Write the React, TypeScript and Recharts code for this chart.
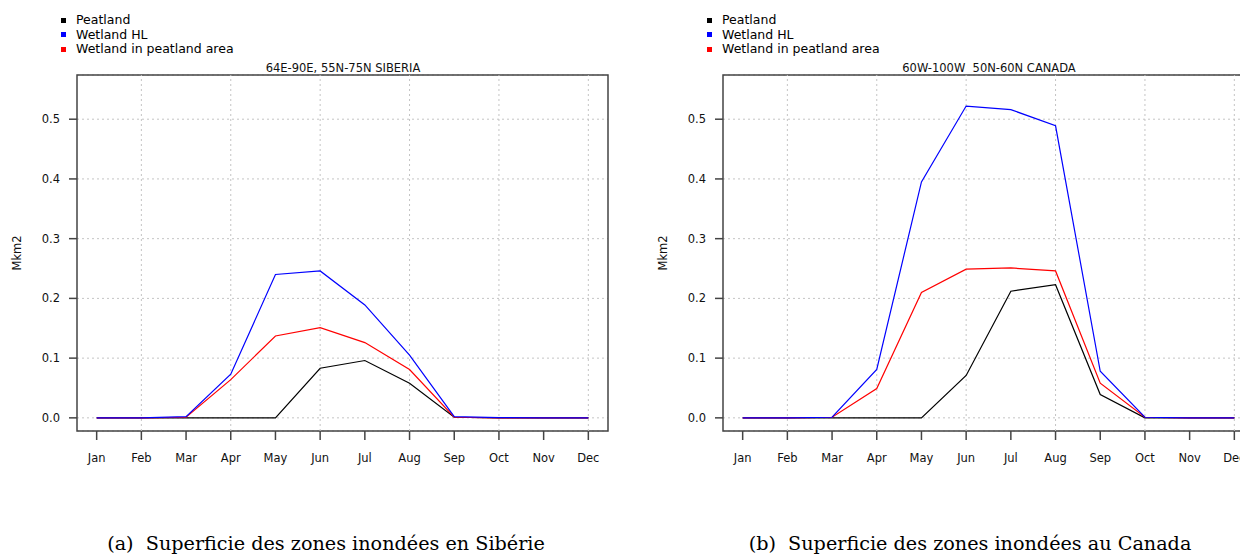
import React from 'react';
import {
  LineChart,
  Line,
  XAxis,
  YAxis,
  CartesianGrid,
  ReferenceLine,
  ReferenceArea,
  Legend,
} from 'recharts';

const months = ['Jan', 'Feb', 'Mar', 'Apr', 'May', 'Jun', 'Jul', 'Aug', 'Sep', 'Oct', 'Nov', 'Dec'];
const monthIndex = [1, 2, 3, 4, 5, 6, 7, 8, 9, 10, 11, 12];
const gridMonths = [2, 4, 6, 8, 10, 12];
const yTicks = [0, 0.1, 0.2, 0.3, 0.4, 0.5];

// Siberia (64E-90E, 55N-75N)
const sibPeatland = [0, 0, 0, 0, 0, 0.083, 0.096, 0.058, 0.001, 0, 0, 0];
const sibWetlandHL = [0, 0, 0.002, 0.073, 0.24, 0.246, 0.189, 0.105, 0.002, 0.0005, 0, 0];
const sibWetlandPeat = [0, 0, 0.001, 0.064, 0.137, 0.151, 0.126, 0.081, 0.001, 0, 0, 0];

// Canada (60W-100W, 50N-60N)
const canPeatland = [0, 0, 0, 0, 0, 0.071, 0.212, 0.223, 0.039, 0, 0, 0];
const canWetlandHL = [0, 0, 0.001, 0.081, 0.395, 0.522, 0.516, 0.489, 0.078, 0.001, 0, 0];
const canWetlandPeat = [0, 0, 0.001, 0.049, 0.21, 0.249, 0.251, 0.246, 0.058, 0.001, 0, 0];

// R-style 4% padding around the data range
const X_DOMAIN: [number, number] = [0.56, 12.44];
const Y_DOMAIN: [number, number] = [-0.022, 0.574];

const SANS = '"DejaVu Sans", sans-serif';
const AXIS_COLOR = '#444';

const renderLegend = (props: any) => (
  <ul style={{ listStyle: 'none', margin: 0, padding: 0, fontFamily: SANS, fontSize: 12.5, lineHeight: '14.5px', color: '#000' }}>
    {(props.payload || []).map((e: any) => (
      <li key={e.value} style={{ display: 'flex', alignItems: 'center', whiteSpace: 'nowrap' }}>
        <span style={{ display: 'inline-block', width: 5, height: 5, background: e.color, marginRight: 10 }} />
        {e.value}
      </li>
    ))}
  </ul>
);

type PanelProps = {
  left: number;
  title: string;
  caption: string;
  captionCenter: number;
  peat: number[];
  hl: number[];
  wp: number[];
};

const Panel: React.FC<PanelProps> = ({ left, title, caption, captionCenter, peat, hl, wp }) => {
  const data = monthIndex.map((m, i) => ({ m, peat: peat[i], hl: hl[i], wp: wp[i] }));
  const tickStyle = { fontFamily: SANS, fontSize: 11.5, fill: '#111' };

  return (
    <>
      <div style={{ position: 'absolute', left, top: 0, width: 620, height: 470 }}>
        <div
          style={{
            position: 'absolute', left: 78, width: 530, top: 61, textAlign: 'center',
            fontFamily: SANS, fontSize: 11.5, color: '#111', whiteSpace: 'pre',
          }}
        >
          {title}
        </div>
        <LineChart width={620} height={470} data={data} margin={{ top: 75, right: 12, left: 17, bottom: 9 }}>
          <CartesianGrid vertical={false} stroke="#c4c4c4" strokeDasharray="2 3" />
          {gridMonths.map((m) => (
            <ReferenceLine key={m} x={m} stroke="#c4c4c4" strokeDasharray="2 3" />
          ))}
          <XAxis
            dataKey="m"
            type="number"
            domain={X_DOMAIN}
            allowDataOverflow
            ticks={monthIndex}
            interval={0}
            tickFormatter={(v: number) => months[v - 1]}
            axisLine={false}
            tickLine={{ stroke: AXIS_COLOR, strokeWidth: 1.5 }}
            tickSize={9}
            tickMargin={14}
            height={30}
            tick={tickStyle}
          />
          <YAxis
            type="number"
            domain={Y_DOMAIN}
            allowDataOverflow
            ticks={yTicks}
            interval={0}
            tickFormatter={(v: number) => v.toFixed(1)}
            axisLine={false}
            tickLine={{ stroke: AXIS_COLOR, strokeWidth: 1.5 }}
            tickSize={8}
            tickMargin={9}
            width={60}
            tick={tickStyle}
            label={{
              value: 'Mkm2', angle: -90, position: 'insideLeft', offset: 0,
              style: { textAnchor: 'middle', fontFamily: SANS, fontSize: 11.5, fill: '#111' },
            }}
          />
          <ReferenceArea
            x1={X_DOMAIN[0]} x2={X_DOMAIN[1]} y1={Y_DOMAIN[0]} y2={Y_DOMAIN[1]}
            fill="none" fillOpacity={0} stroke={AXIS_COLOR} strokeWidth={1.5}
          />
          <Legend
            layout="vertical"
            align="center"
            verticalAlign="middle"
            content={renderLegend}
            wrapperStyle={{ left: 61, top: 13, width: 260 }}
          />
          <Line name="Peatland" dataKey="peat" type="linear" stroke="#000000" strokeWidth={1.2} dot={false} isAnimationActive={false} legendType="square" />
          <Line name="Wetland in peatland area" dataKey="wp" type="linear" stroke="#ff0000" strokeWidth={1.2} dot={false} isAnimationActive={false} legendType="square" />
          <Line name="Wetland HL" dataKey="hl" type="linear" stroke="#0000ff" strokeWidth={1.2} dot={false} isAnimationActive={false} legendType="square" />
        </LineChart>
      </div>
      <div
        style={{
          position: 'absolute', left: captionCenter - 300, width: 600, top: 532, textAlign: 'center',
          fontFamily: '"DejaVu Serif", serif', fontSize: 19.2, color: '#000', whiteSpace: 'pre',
        }}
      >
        {caption}
      </div>
    </>
  );
};

export default function App() {
  return (
    <div style={{ position: 'absolute', left: 0, top: 0, width: 1240, height: 558, overflow: 'hidden', background: '#fff' }}>
      <Panel
        left={0}
        title="64E-90E, 55N-75N SIBERIA"
        caption="(a)  Superficie des zones inondées en Sibérie"
        captionCenter={326}
        peat={sibPeatland}
        hl={sibWetlandHL}
        wp={sibWetlandPeat}
      />
      <Panel
        left={646}
        title="60W-100W  50N-60N CANADA"
        caption="(b)  Superficie des zones inondées au Canada"
        captionCenter={970}
        peat={canPeatland}
        hl={canWetlandHL}
        wp={canWetlandPeat}
      />
    </div>
  );
}
